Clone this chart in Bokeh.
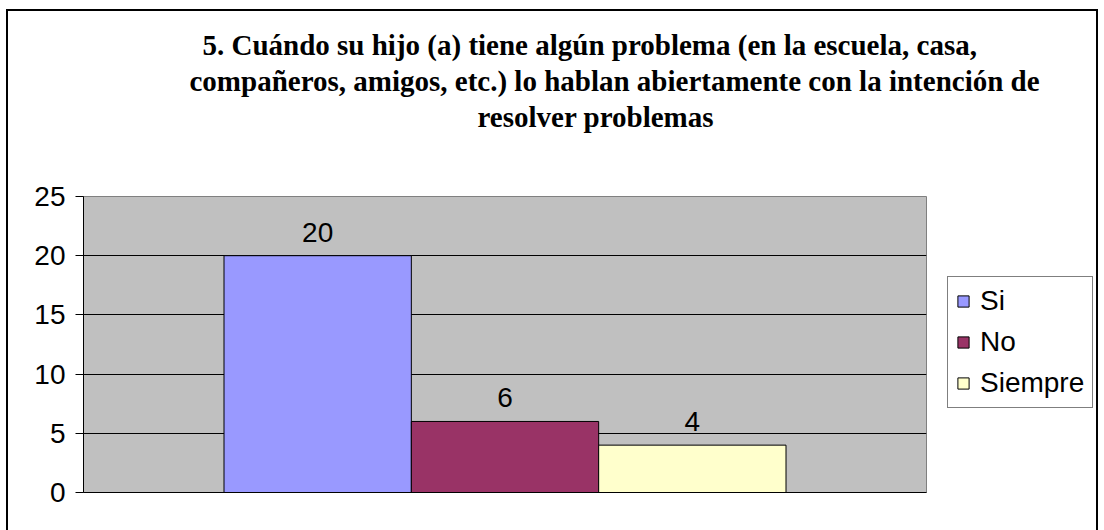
from bokeh.plotting import figure
from bokeh.models import Range1d, FixedTicker, Title, Legend, LegendItem, ColumnDataSource
from bokeh.core.properties import value
from bokeh.embed import file_html
from bokeh.resources import INLINE

categories = ["Si", "No", "Siempre"]
counts = [20, 6, 4]
colors = ["#9999FF", "#993366", "#FFFFCC"]
y_ticks = [0, 5, 10, 15, 20, 25]
title_lines = [
    "5. Cuándo su hijo (a) tiene algún problema (en la escuela, casa,",
    "compañeros, amigos, etc.)  lo hablan abiertamente con la intención de",
    "resolver  problemas",
]

positions = [1.25, 2.25, 3.25]

p = figure(frame_width=843, frame_height=296, output_backend="svg", toolbar_location=None,
           x_range=Range1d(0, 4.5), y_range=Range1d(0, 25),
           min_border_left=75, min_border_right=174, min_border_top=185, min_border_bottom=38)
p.styles = {"border": "2px solid black", "border-bottom": "none",
            "margin-left": "6px", "margin-top": "9px",
            "max-width": "1092px", "overflow": "hidden"}
p.background_fill_color = "#C0C0C0"
p.border_fill_color = "white"
p.outline_line_color = "#808080"
p.outline_line_width = 1
p.title.visible = False

p.xgrid.visible = False
p.ygrid.ticker = FixedTicker(ticks=y_ticks)
p.ygrid.grid_line_color = "black"
p.ygrid.grid_line_width = 1

p.yaxis.ticker = FixedTicker(ticks=y_ticks)
p.yaxis.major_tick_out = 8
p.yaxis.major_tick_in = 0
p.yaxis.minor_tick_line_color = None
p.yaxis.axis_line_color = "black"
p.yaxis.major_tick_line_color = "black"
p.yaxis.major_label_text_font = "Liberation Sans"
p.yaxis.major_label_text_font_size = "28px"
p.yaxis.major_label_text_color = "black"
p.yaxis.major_label_standoff = 10

p.xaxis.ticker = FixedTicker(ticks=[])
p.xaxis.major_tick_line_color = None
p.xaxis.minor_tick_line_color = None
p.xaxis.axis_line_color = "black"

src = ColumnDataSource(dict(x=positions, top=counts, color=colors, cat=categories,
                            lbl=[str(c) for c in counts]))
renderers = []
for i in range(len(categories)):
    r = p.vbar(x=[positions[i]], top=[counts[i]], width=1.0, bottom=0,
               fill_color=colors[i], line_color="black", line_width=1)
    renderers.append(r)

p.text(x="x", y="top", text="lbl", source=src, text_align="center",
       text_baseline="bottom", y_offset=-14, text_font=value("Liberation Sans"),
       text_font_size="28px", text_color="black")

legend = Legend(items=[LegendItem(label=categories[i], renderers=[renderers[i]]) for i in range(3)],
                location=(21, 84), orientation="vertical",
                padding=8, spacing=9, label_height=29, glyph_width=14, glyph_height=14,
                label_standoff=10, margin=0,
                label_text_font="Liberation Sans", label_text_font_size="28px",
                label_text_color="black",
                border_line_color="black", border_line_width=1,
                background_fill_color="white", background_fill_alpha=1.0)
p.add_layout(legend, "right")

# spacer between the title block and the plot area
p.add_layout(Title(text=" ", text_font_size="10px", standoff=50), "above")
title_offsets = [119, 106, 394]
for t, off in reversed(list(zip(title_lines, title_offsets))):
    p.add_layout(Title(text=t, align="left", offset=off, standoff=2,
                       text_font="Liberation Serif", text_font_style="bold",
                       text_font_size="29px", text_color="black"), "above")

open("out.html", "w").write(file_html(p, INLINE))
